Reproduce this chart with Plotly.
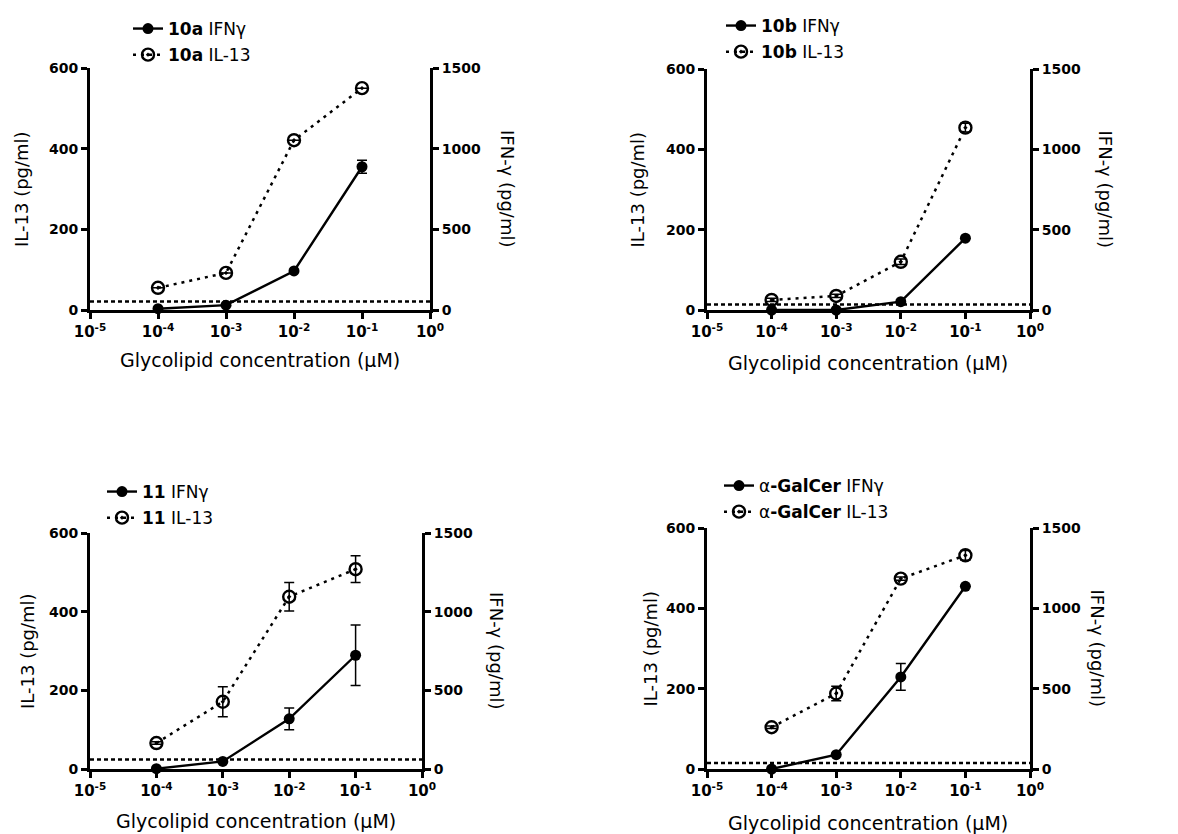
import plotly.graph_objects as go

# page body has an 8px margin; figure sized to fit the 1178x834 window
OFF = 8
W, H = 1178 - OFF, 834 - OFF

conc = [1e-4, 1e-3, 1e-2, 1e-1]
x_tickvals = [1e-5, 1e-4, 1e-3, 1e-2, 1e-1, 1e0]
x_ticktext = ["<b>10<sup>-5</sup></b>", "<b>10<sup>-4</sup></b>", "<b>10<sup>-3</sup></b>",
              "<b>10<sup>-2</sup></b>", "<b>10<sup>-1</sup></b>", "<b>10<sup>0</sup></b>"]
il13_ticks = [0, 200, 400, 600]
ifn_ticks = [0, 500, 1000, 1500]

compounds = ["<b>10a</b>", "<b>10b</b>", "<b>11</b>", "α<b>-GalCer</b>"]

il13_10a = [55, 92, 421, 550]
il13_10a_err = [0, 0, 0, 0]
ifn_10a = [8, 30, 242, 888]
ifn_10a_err = [0, 0, 0, 40]

il13_10b = [25, 35, 120, 454]
il13_10b_err = [4, 4, 7, 11]
ifn_10b = [0, 0, 52, 447]
ifn_10b_err = [0, 0, 0, 0]

il13_11 = [66, 171, 438, 508]
il13_11_err = [3, 38, 36, 34]
ifn_11 = [2, 48, 319, 723]
ifn_11_err = [0, 0, 69, 192]

il13_agc = [104, 188, 474, 532]
il13_agc_err = [3, 18, 4, 12]
ifn_agc = [0, 89, 573, 1137]
ifn_agc_err = [0, 0, 83, 0]

thresholds = [21, 14, 24, 15]  # IL-13 axis units (dashed baseline)

il13_all = [il13_10a, il13_10b, il13_11, il13_agc]
il13_err_all = [il13_10a_err, il13_10b_err, il13_11_err, il13_agc_err]
ifn_all = [ifn_10a, ifn_10b, ifn_11, ifn_agc]
ifn_err_all = [ifn_10a_err, ifn_10b_err, ifn_11_err, ifn_agc_err]

# layout geometry in screen pixels: (x0, x1, ytop, ybottom)
panels = [(90, 430, 68, 310), (707, 1030, 69, 310), (90, 422, 533, 769), (707, 1030, 528, 769)]
ytitle_left_x = [22, 637, 27, 650]
ytitle_right_x = [507, 1105, 497, 1097]
xtitle_pos = [(260, 360), (868, 363), (256, 821), (868, 823)]
legend_pos = [(128, 11), (721, 8), (102, 474), (719, 468)]


def px(x):
    return (x - OFF) / W


def py(y):
    return 1 - (y - OFF) / H


FONT = "DejaVu Sans, Verdana, sans-serif"

fig = go.Figure()
annotations = []
shapes = []
layout = {}

for i in range(4):
    x0, x1, yt, yb = panels[i]
    xa = "x" if i == 0 else f"x{i+1}"
    ya_l = "y" if i == 0 else f"y{2*i+1}"
    ya_r = f"y{2*i+2}"
    leg = "legend" if i == 0 else f"legend{i+1}"

    fig.add_trace(go.Scatter(
        x=conc, y=ifn_all[i], xaxis=xa, yaxis=ya_r, mode="lines+markers",
        name=f"{compounds[i]} IFNγ", legend=leg, legendgroup=f"g{i}a",
        line=dict(color="black", width=2.4),
        marker=dict(symbol="circle", size=11, color="black"),
        error_y=dict(type="data", array=ifn_err_all[i], visible=True, color="black", thickness=1.5, width=5),
        cliponaxis=False))
    fig.add_trace(go.Scatter(
        x=conc, y=il13_all[i], xaxis=xa, yaxis=ya_l, mode="lines+markers",
        name=f"{compounds[i]} IL-13", legend=leg, legendgroup=f"g{i}b",
        line=dict(color="black", width=2.5, dash="3px,5px"),
        marker=dict(symbol="circle-open-dot", size=12, color="black", line=dict(width=2.4, color="black")),
        error_y=dict(type="data", array=il13_err_all[i], visible=True, color="black", thickness=1.5, width=5),
        cliponaxis=False))

    xd = [px(x0), px(x1)]
    yd = [py(yb), py(yt)]
    axcommon = dict(showline=True, linecolor="black", linewidth=3, ticks="outside", ticklen=6,
                    tickwidth=3, tickcolor="black", showgrid=False, zeroline=False, automargin=False)
    layout[("xaxis" if i == 0 else f"xaxis{i+1}")] = dict(
        domain=xd, anchor=ya_l, type="log", range=[-5, 0], tickvals=x_tickvals, ticktext=x_ticktext,
        tickfont=dict(family=FONT, size=15, color="black"), **axcommon)
    layout[("yaxis" if i == 0 else f"yaxis{2*i+1}")] = dict(
        domain=yd, anchor=xa, range=[0, 600], tickvals=il13_ticks,
        ticktext=[f"<b>{v}</b>" for v in il13_ticks],
        tickfont=dict(family=FONT, size=14, color="black"), **axcommon)
    layout[f"yaxis{2*i+2}"] = dict(
        overlaying=ya_l, side="right", anchor=xa, range=[0, 1500], tickvals=ifn_ticks,
        ticktext=[f"<b>{v}</b>" for v in ifn_ticks],
        tickfont=dict(family=FONT, size=14, color="black"), **axcommon)

    shapes.append(dict(type="line", xref=f"{xa} domain", yref=ya_l, x0=0, x1=1,
                       y0=thresholds[i], y1=thresholds[i],
                       line=dict(color="black", width=2.5, dash="4px,3px")))

    ymid = (yt + yb) / 2
    annotations.append(dict(text="IL-13 (pg/ml)", x=px(ytitle_left_x[i]), y=py(ymid),
                            xref="paper", yref="paper", showarrow=False, textangle=-90,
                            xanchor="center", yanchor="middle",
                            font=dict(family=FONT, size=18, color="black")))
    annotations.append(dict(text="IFN-γ (pg/ml)", x=px(ytitle_right_x[i]), y=py(ymid),
                            xref="paper", yref="paper", showarrow=False, textangle=90,
                            xanchor="center", yanchor="middle",
                            font=dict(family=FONT, size=18, color="black")))
    xt, ytt = xtitle_pos[i]
    annotations.append(dict(text="Glycolipid concentration (μM)", x=px(xt), y=py(ytt),
                            xref="paper", yref="paper", showarrow=False,
                            xanchor="center", yanchor="middle",
                            font=dict(family=FONT, size=19, color="black")))
    lx, ly = legend_pos[i]
    layout[leg] = dict(x=px(lx), y=py(ly), xanchor="left", yanchor="top",
                       bgcolor="rgba(0,0,0,0)", font=dict(family=FONT, size=17, color="black"),
                       tracegroupgap=1, itemwidth=30)

fig.update_layout(width=W, height=H, margin=dict(l=0, r=0, t=0, b=0, autoexpand=False),
                  paper_bgcolor="white", plot_bgcolor="white", showlegend=True,
                  annotations=annotations, shapes=shapes, **layout)

fig.write_html("out.html")
